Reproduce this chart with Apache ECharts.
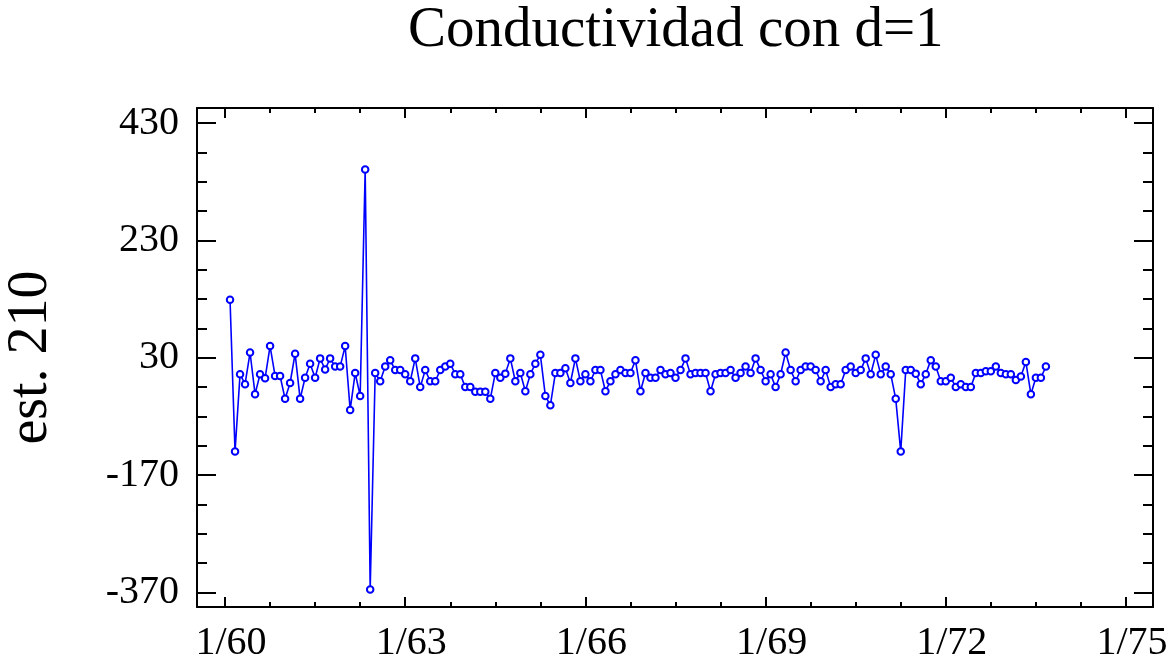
<!DOCTYPE html>
<html>
<head>
<meta charset="utf-8">
<script src="https://cdn.jsdelivr.net/npm/echarts@6/dist/echarts.min.js"></script>
<style>
  html, body { margin: 0; padding: 0; background: #fff; }
  #chart { width: 1172px; height: 664px; }
</style>
</head>
<body>
<div id="chart"></div>
<script>
// valores diferenciados (d=1), uno por mes desde 2/60
const startMonth = 1
const values = [
  129, -130, 2, -15, 39, -32, 2, -5, 50, -1, -1, -40, -13, 37, -40, -4, 20, -4, 29, 10,
  29, 15, 15, 50, -59, 4, -35, 351, -365, 4, -10, 15, 26, 9, 9, 2, -10, 29, -20, 9,
  -10, -10, 9, 15, 20, 2, 2, -20, -20, -28, -28, -28, -40, 4, -4, 3, 29, -10, 4, -27,
  2, 20, 35, -35, -51, 4, 4, 12, -13, 29, -10, 2, -10, 9, 9, -27, -10, 2, 9, 4,
  4, 26, -27, 4, -4, -4, 9, 2, 4, -4, 9, 29, 2, 4, 4, 4, -27, 2, 4, 4,
  9, -4, 4, 15, 4, 29, 9, -10, 2, -20, 2, 39, 9, -10, 9, 15, 15, 9, -10, 9,
  -20, -15, -15, 9, 15, 4, 9, 29, 2, 35, 2, 15, 2, -40, -130, 9, 9, 3, -15, 2,
  26, 15, -10, -10, -4, -20, -15, -20, -20, 4, 4, 7, 7, 15, 4, 2, 2, -8, -2, 23,
  -32, -4, -4, 15
]
const xLabels = ['1/60', '1/63', '1/66', '1/69', '1/72', '1/75']
const xLabelYears = [60, 63, 66, 69, 72, 75]
const yTicks = [-370, -170, 30, 230, 430]
const yMinorTicks = [-320, -270, -220, -120, -70, -20, 80, 130, 180, 280, 330, 380]

const xMajor = xLabelYears.map(y => (y - 60) * 12)
const xMinor = []
for (let m = 9; m < 180; m += 9) { if (m % 36 !== 0) xMinor.push(m) }
const points = values.map((v, i) => [startMonth + i, v])

const X_MIN = -5.6, X_MAX = 185.4
const Y_MIN = -395, Y_MAX = 456
const serif = '"Liberation Serif", "Times New Roman", serif'
const frame = { show: true, onZero: false, lineStyle: { color: '#000', width: 2 } }

function xAx(pos, ticks, len, withLine, withLabel) {
  return {
    type: 'value', position: pos, min: X_MIN, max: X_MAX,
    axisLine: withLine ? frame : { show: false, onZero: false },
    axisTick: { show: true, inside: true, length: len, customValues: ticks, lineStyle: { color: '#000', width: 2 } },
    axisLabel: withLabel ? {
      show: true, customValues: xMajor, margin: 16, padding: [0, 0, 0, 12],
      fontFamily: serif, fontSize: 40, color: '#000',
      formatter: v => xLabels[xMajor.indexOf(Math.round(v))] || ''
    } : { show: false },
    splitLine: { show: false }
  }
}
function yAx(pos, ticks, len, withLine, withLabel) {
  return {
    type: 'value', position: pos, min: Y_MIN, max: Y_MAX,
    axisLine: withLine ? frame : { show: false, onZero: false },
    axisTick: { show: true, inside: true, length: len, customValues: ticks, lineStyle: { color: '#000', width: 2 } },
    axisLabel: withLabel ? {
      show: true, customValues: yTicks, margin: 18,
      fontFamily: serif, fontSize: 40, color: '#000'
    } : { show: false },
    splitLine: { show: false }
  }
}

const yLeft = yAx('left', yTicks, 19, true, true)
yLeft.name = 'est. 210'
yLeft.nameLocation = 'middle'
yLeft.nameGap = 138
yLeft.nameMoveOverlap = false
yLeft.nameTextStyle = { fontFamily: serif, fontSize: 56, color: '#000' }

const myChart = echarts.init(document.getElementById('chart'))
const option = {
  animation: false,
  backgroundColor: '#fff',
  title: {
    text: 'Conductividad con d=1',
    left: 403,
    top: -2,
    textStyle: { fontFamily: serif, fontSize: 57, fontWeight: 'normal', color: '#000' }
  },
  grid: { left: 197, right: 19, top: 108, bottom: 57, outerBoundsMode: 'none' },
  xAxis: [
    xAx('bottom', xMajor, 10, true, true),
    xAx('bottom', xMinor, 5, false, false),
    xAx('top', xMajor, 10, true, false),
    xAx('top', xMinor, 5, false, false)
  ],
  yAxis: [
    yLeft,
    yAx('left', yMinorTicks, 10, false, false),
    yAx('right', yTicks, 19, true, false),
    yAx('right', yMinorTicks, 10, false, false)
  ],
  series: [{
    type: 'line',
    data: points,
    xAxisIndex: 0,
    yAxisIndex: 0,
    symbol: 'emptyCircle',
    symbolSize: 6.5,
    lineStyle: { color: '#0000ff', width: 1.6 },
    itemStyle: { color: '#0000ff', borderColor: '#0000ff', borderWidth: 1.6 }
  }]
}
myChart.setOption(option)
</script>
</body>
</html>
